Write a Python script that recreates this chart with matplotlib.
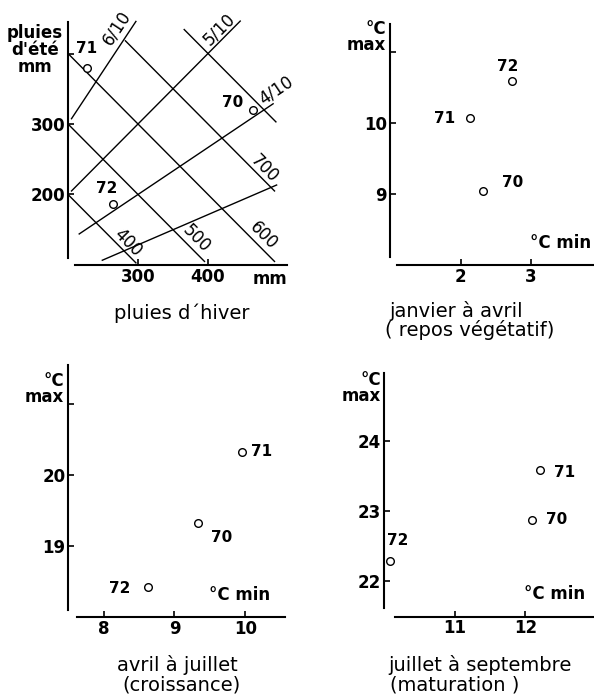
import math
import matplotlib
matplotlib.use("Agg")
import matplotlib.pyplot as plt

plt.rcParams['font.family'] = ['DejaVu Sans']

W, H = 594, 695

# panel 1 : rain, winter vs summer (mm)
years = ['70', '71', '72']
winter_rain = [464, 227, 264]
summer_rain = [320, 380, 186]
# lines of equal total rain (winter + summer), with x extent
total_levels = [400, 500, 600, 700, 800]
total_spans = [(200, 297), (200, 395), (200, 495), (282, 495), (366, 497)]
total_labels = ['400', '500', '600', '700', '']
# lines of equal summer share summer/(winter+summer)
ratio_levels = [0.6, 0.5, 0.4, 0.3]
ratio_spans = [(205, 297), (205, 446), (216, 493), (249, 498)]
ratio_labels = ['6/10', '5/10', '4/10', '']

# panels 2-4 : mean min / max temperatures (70, 71, 72)
jan_tmin = [2.32, 2.14, 2.73]
jan_tmax = [9.04, 10.07, 10.59]
apr_tmin = [9.33, 9.96, 8.62]
apr_tmax = [19.32, 20.32, 18.42]
jul_tmin = [12.09, 12.21, 10.09]
jul_tmax = [22.88, 23.58, 22.29]


def px(x, y):
    # pixel position in the 594x695 picture -> figure fraction
    return x / W, 1 - y / H


def setup(rect, xlim, ylim, origin, xb, yb, xticks, yticks, ylabels):
    ax = fig.add_axes(rect)
    ax.set_xlim(*xlim)
    ax.set_ylim(*ylim)
    for s in ['top', 'right']:
        ax.spines[s].set_visible(False)
    ax.spines['left'].set_position(('data', origin[0]))
    ax.spines['left'].set_bounds(*yb)
    ax.spines['bottom'].set_position(('data', origin[1]))
    ax.spines['bottom'].set_bounds(*xb)
    for s in ['left', 'bottom']:
        ax.spines[s].set_linewidth(1.5)
    ax.set_xticks(xticks)
    ax.set_xticklabels([str(t) for t in xticks])
    ax.set_yticks(yticks)
    ax.set_yticklabels(ylabels)
    ax.tick_params(direction='in', length=4.5, width=1.2, labelsize=12, pad=2)
    for lab in ax.get_xticklabels() + ax.get_yticklabels():
        lab.set_fontweight('bold')
    ax.patch.set_visible(False)
    return ax


def points(ax, xs, ys, offsets):
    ax.plot(xs, ys, 'o', ls='none', ms=5.5, mfc='white', mec='black', mew=1.0)
    for x, y, yr, off in zip(xs, ys, years, offsets):
        ax.annotate(yr, (x, y), xytext=off, textcoords='offset points',
                    ha='center', va='center', fontsize=11, fontweight='bold')


fig = plt.figure(figsize=(W / 100, H / 100), dpi=100)
sub = dict(va='center', fontsize=14)

# ---- panel 1
ax1 = setup([0.0968, 0.6086, 0.4007, 0.3702], (185, 525), (90, 455), (200, 100),
            (210, 513), (110, 445), [300, 400], [200, 300, 400], ['200', '300', ''])
total_label_pos = [(285, 132), (383, 137), (479, 142), (481, 236)]
for lev, (x0, x1) in zip(total_levels, total_spans):
    ax1.plot([x0, x1], [lev - x0, lev - x1], color='black', lw=1.0)
for lab, pos in zip(total_labels, total_label_pos):
    ax1.text(pos[0], pos[1], lab, rotation=-45, transform_rotates_text=True,
             rotation_mode='anchor', ha='center', va='center', fontsize=12)
ratio_label_pos = [(270, 437), (416, 434), (497, 348)]
for r, (x0, x1) in zip(ratio_levels, ratio_spans):
    k = r / (1 - r)
    ax1.plot([x0, x1], [k * x0, k * x1], color='black', lw=1.0)
for lab, r, pos in zip(ratio_labels, ratio_levels, ratio_label_pos):
    ang = math.degrees(math.atan(r / (1 - r)))
    ax1.text(pos[0], pos[1], lab, rotation=ang, transform_rotates_text=True,
             rotation_mode='anchor', ha='center', va='center', fontsize=12)
points(ax1, winter_rain, summer_rain, [(-14.8, 5), (0, 13.7), (-4.3, 11.2)])
fig.text(*px(35, 50), "pluies\nd'été\nmm", ha='center', va='center',
         fontsize=12, fontweight='bold', linespacing=0.95)
fig.text(*px(270, 279), 'mm', ha='center', va='center', fontsize=12, fontweight='bold')
fig.text(*px(182, 313), 'pluies d´hiver', ha='center', **sub)

# ---- panel 2
ax2 = setup([0.6387, 0.6033, 0.3613, 0.3832], (0.85, 3.89), (7.85, 11.6), (1, 8),
            (1.1, 3.89), (8.11, 11.4), [2, 3], [9, 10, 11], ['9', '10', ''])
points(ax2, jan_tmin, jan_tmax, [(21, 6.5), (-18.7, 0), (-3, 10.8)])
fig.text(*px(386, 37), '°C\nmax', ha='right', va='center', fontsize=12,
         fontweight='bold', linespacing=0.9, multialignment='right')
fig.text(*px(561, 243), '°C min', ha='center', va='center', fontsize=12, fontweight='bold')
fig.text(*px(389, 311), 'janvier à avril', ha='left', **sub)
fig.text(*px(385, 330), '( repos végétatif)', ha='left', **sub)

# ---- panel 3
ax3 = setup([0.0971, 0.0973, 0.4052, 0.3934], (7.35, 10.75), (17.85, 21.7), (7.5, 18),
            (7.62, 10.56), (18.09, 21.54), [8, 9, 10], [19, 20, 21], ['19', '20', ''])
points(ax3, apr_tmin, apr_tmax, [(17.3, -10.3), (14, 0), (-20.3, -1.2)])
fig.text(*px(64, 389), '°C\nmax', ha='right', va='center', fontsize=12,
         fontweight='bold', linespacing=0.9, multialignment='right')
fig.text(*px(240, 595), '°C min', ha='center', va='center', fontsize=12, fontweight='bold')
fig.text(*px(177, 665), 'avril à juillet', ha='center', **sub)
fig.text(*px(181, 685), '(croissance)', ha='center', **sub)

# ---- panel 4
ax4 = setup([0.6286, 0.0976, 0.3690, 0.3894], (9.85, 12.95), (21.35, 25.2), (10, 21.5),
            (10.16, 12.95), (21.62, 24.96), [11, 12], [22, 23, 24], ['22', '23', '24'])
points(ax4, jul_tmin, jul_tmax, [(18, 0), (17.5, -1.2), (5.5, 14.8)])
fig.text(*px(381, 388), '°C\nmax', ha='right', va='center', fontsize=12,
         fontweight='bold', linespacing=0.9, multialignment='right')
fig.text(*px(555, 594), '°C min', ha='center', va='center', fontsize=12, fontweight='bold')
fig.text(*px(388, 665), 'juillet à septembre', ha='left', **sub)
fig.text(*px(390, 685), '(maturation )', ha='left', **sub)

fig.savefig('out.png', dpi=100)
